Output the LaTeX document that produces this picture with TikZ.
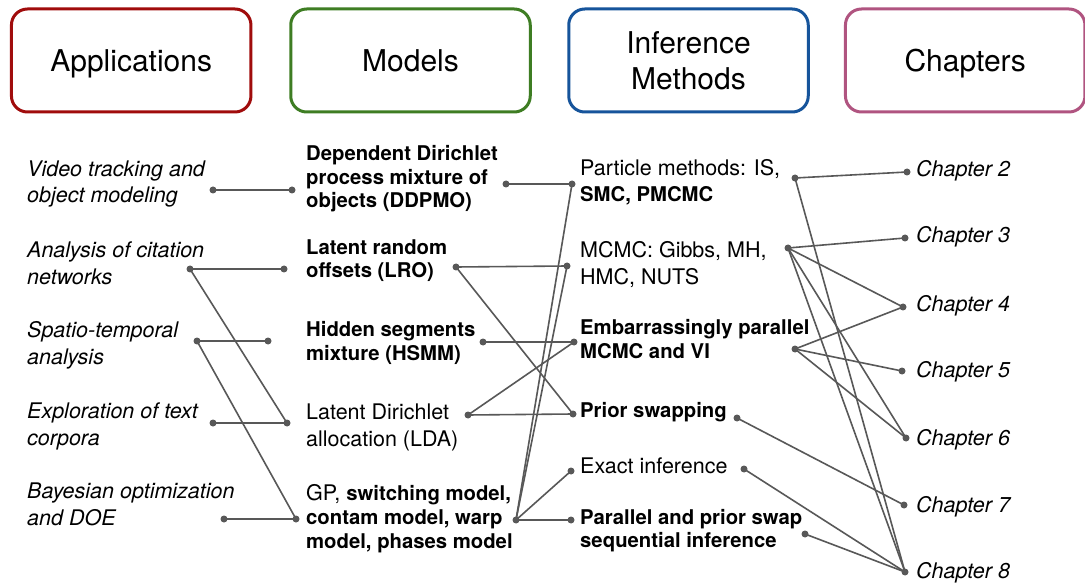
\documentclass[tikz,border=0pt]{standalone}
\usepackage{fontspec}
\setmainfont{TeX Gyre Heros}
\usetikzlibrary{backgrounds}
\definecolor{appred}{RGB}{160,12,12}
\definecolor{modgreen}{RGB}{62,125,35}
\definecolor{infblue}{RGB}{22,84,155}
\definecolor{chpink}{RGB}{176,84,128}
\definecolor{wire}{RGB}{88,88,88}
\newcommand\bld[1]{{\fontsize{20.3}{24}\selectfont\bfseries #1}}

\begin{document}
\begin{tikzpicture}[x=1pt,y=-1pt,
  header/.style={draw, line width=3pt, rounded corners=16pt,
    minimum width=239.5pt, minimum height=103pt, inner sep=0pt,
    text depth=0pt, font=\fontsize{30}{36}\selectfont, align=center},
  % multi-line items are placed by the baseline of their last line
  item/.style={anchor=base west, align=left, inner sep=0pt, text=black},
  reg/.style={item, font=\fontsize{21.5}{26.5}\selectfont},
  ital/.style={item, font=\fontsize{21.5}{26.5}\selectfont\itshape},
  bold/.style={item, font=\fontsize{20.3}{23.5}\selectfont\bfseries},
  dot/.style={circle, fill=wire, inner sep=0pt, minimum size=7pt},
  link/.style={draw=wire, line width=1.6pt}
]
\useasboundingbox (0,0) rectangle (1085,588);

% column headers
\node[header, draw=appred]   (hApp) at (131.2,60.5) {Applications};
\node[header, draw=modgreen] (hMod) at (410.5,60.5) {Models};
\node[header, draw=infblue]  (hInf) at (688.5,60.5) {Inference\\Methods};
\node[header, draw=chpink]   (hCh)  at (965.2,60.5) {Chapters};

% applications
\node[ital] (tVideo) at (27,203) {Video tracking and\\object modeling};
\node[ital] (tCite)  at (27,284) {Analysis of citation\\networks};
\node[ital] (tSpat)  at (27,364) {Spatio-temporal\\analysis};
\node[ital] (tExpl)  at (27,445) {Exploration of text\\corpora};
\node[ital] (tBayes) at (27,525) {Bayesian optimization\\and DOE};

% models
\node[bold] (tDDP)  at (306,208) {Dependent Dirichlet\\process mixture of\\objects (DDPMO)};
\node[bold] (tLRO)  at (306,278) {Latent random\\offsets (LRO)};
\node[bold] (tHSMM) at (306,360) {Hidden segments\\mixture (HSMM)};
\node[reg]  (tLDA)  at (306,446) {Latent Dirichlet\\allocation (LDA)};
\node[reg, font=\fontsize{21.5}{24}\selectfont] (tGP) at (306,548)
  {GP, \bld{switching model,}\\\bld{contam model, warp}\\\bld{model, phases model}};

% inference methods
\node[reg, font=\fontsize{21.5}{26}\selectfont] (tPart) at (580,202)
  {Particle methods: IS,\\\bld{SMC, PMCMC}};
\node[reg]  (tMCMC)  at (580,284) {MCMC: Gibbs, MH,\\HMC, NUTS};
\node[bold] (tEP)    at (580,358) {Embarrassingly parallel\\MCMC and VI};
\node[bold] (tPS)    at (580,417) {Prior swapping};
\node[reg]  (tExact) at (580,473) {Exact inference};
\node[bold, font=\fontsize{20.3}{22.5}\selectfont\bfseries] (tSeq) at (580,547)
  {Parallel and prior swap\\sequential inference};

% chapters
\node[ital] (tC2) at (916,177) {Chapter 2};
\node[ital] (tC3) at (916,243) {Chapter 3};
\node[ital] (tC4) at (916,312) {Chapter 4};
\node[ital] (tC5) at (916,377) {Chapter 5};
\node[ital] (tC6) at (916,445) {Chapter 6};
\node[ital] (tC7) at (916,512) {Chapter 7};
\node[ital] (tC8) at (916,578) {Chapter 8};

% connection dots: applications
\node[dot] (vA) at (213,190) {};
\node[dot] (aA) at (190,269) {};
\node[dot] (sA) at (197,341) {};
\node[dot] (eA) at (213,423) {};
\node[dot] (bA) at (224,519) {};
% models, left side
\node[dot] (dL)  at (292,190) {};
\node[dot] (lL)  at (284,269) {};
\node[dot] (hL)  at (268,341) {};
\node[dot] (ldL) at (287,423) {};
\node[dot] (gL)  at (296,519) {};
% models, right side
\node[dot] (dR)  at (506,184) {};
\node[dot] (lR)  at (456,267) {};
\node[dot] (hR)  at (483,342) {};
\node[dot] (ldR) at (468,415) {};
\node[dot] (gR)  at (516,520) {};
% inference, left side
\node[dot] (pL)  at (572,184) {};
\node[dot] (mL)  at (567,266) {};
\node[dot] (eL)  at (574,342) {};
\node[dot] (psL) at (573,414) {};
\node[dot] (exL) at (571,471) {};
\node[dot] (sqL) at (571,520) {};
% inference, right side
\node[dot] (pR)  at (795,178) {};
\node[dot] (mR)  at (788,248) {};
\node[dot] (eR)  at (795,349) {};
\node[dot] (psR) at (737,418) {};
\node[dot] (exR) at (744,469) {};
\node[dot] (sqR) at (805,534) {};
% chapters
\node[dot] (c2) at (907,172) {};
\node[dot] (c3) at (905,238) {};
\node[dot] (c4) at (903,307) {};
\node[dot] (c5) at (902,371) {};
\node[dot] (c6) at (906,438) {};
\node[dot] (c7) at (904,505) {};
\node[dot] (c8) at (905,572) {};

\begin{scope}[on background layer]
  \fill[white] (0,0) rectangle (1085,588);
  % applications -> models
  \foreach \a/\b in {vA/dL, aA/lL, aA/ldL, sA/hL, sA/gL, eA/ldL, bA/gL}
    \draw[link] (\a.center) -- (\b.center);
  % models -> inference methods
  \foreach \a/\b in {dR/pL, lR/mL, lR/psL, hR/eL, ldR/eL, ldR/psL,
                     gR/pL, gR/mL, gR/exL, gR/sqL}
    \draw[link] (\a.center) -- (\b.center);
  % inference methods -> chapters
  \foreach \a/\b in {pR/c2, pR/c8, mR/c3, mR/c4, mR/c6, mR/c8,
                     eR/c4, eR/c5, eR/c6, psR/c7, exR/c8, sqR/c8}
    \draw[link] (\a.center) -- (\b.center);
\end{scope}
\end{tikzpicture}
\end{document}
